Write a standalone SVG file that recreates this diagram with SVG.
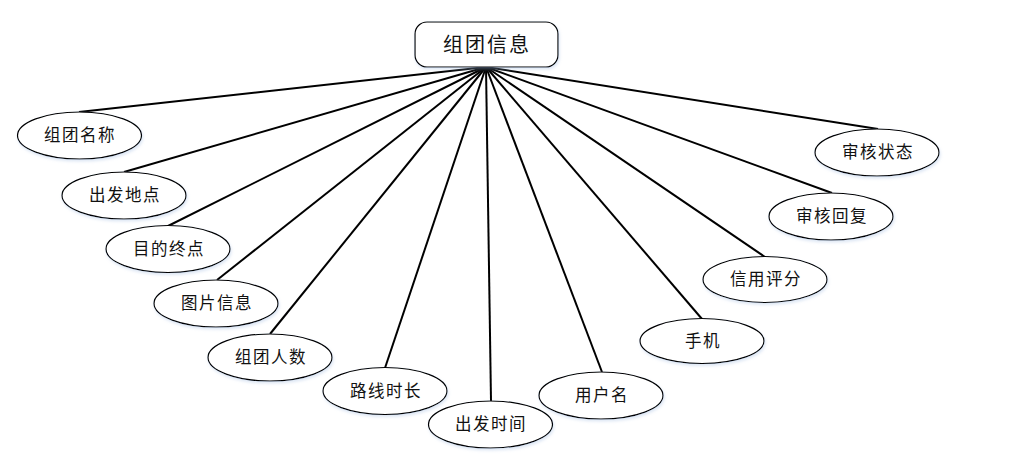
<svg xmlns="http://www.w3.org/2000/svg" width="1023" height="469" viewBox="0 0 1023 469">
<defs>
<filter id="sh" x="-20%" y="-20%" width="140%" height="150%">
<feDropShadow dx="1" dy="2" stdDeviation="1.5" flood-color="#9db8e0" flood-opacity="0.35"/>
</filter>
<style>
.n ellipse{fill:#fff;stroke:#000;stroke-width:1.2;filter:url(#sh)}
.n text{font-family:"Noto Sans CJK SC","Noto Sans",sans-serif;font-size:16.5px;letter-spacing:1.5px;text-anchor:middle;fill:#111}
#edges line{stroke:#000;stroke-width:2}
</style>
</defs>
<rect width="1023" height="469" fill="#fff"/>
<g id="edges">
<line x1="486" y1="67" x2="79" y2="112"/>
<line x1="486" y1="67" x2="124" y2="172"/>
<line x1="486" y1="67" x2="168" y2="226"/>
<line x1="486" y1="67" x2="217" y2="280"/>
<line x1="486" y1="67" x2="270" y2="334"/>
<line x1="486" y1="67" x2="385" y2="368"/>
<line x1="486" y1="67" x2="491" y2="401"/>
<line x1="486" y1="67" x2="602" y2="372"/>
<line x1="486" y1="67" x2="702" y2="319"/>
<line x1="486" y1="67" x2="765" y2="257"/>
<line x1="486" y1="67" x2="832" y2="193"/>
<line x1="486" y1="67" x2="878" y2="129"/>
</g>
<g id="root" class="n">
<rect x="415" y="22" width="143" height="45" rx="12" ry="12" fill="#fff" stroke="#000" stroke-width="1.2" filter="url(#sh)"/>
<text x="487" y="52" style="font-size:20px;letter-spacing:2px">组团信息</text>
</g>
<g id="n1" class="n"><ellipse cx="79.5" cy="135.5" rx="62" ry="23.5"/><text x="80" y="141">组团名称</text></g>
<g id="n2" class="n"><ellipse cx="124" cy="195.5" rx="62" ry="23.5"/><text x="125" y="201">出发地点</text></g>
<g id="n3" class="n"><ellipse cx="168" cy="249" rx="62" ry="23.5"/><text x="169" y="255">目的终点</text></g>
<g id="n4" class="n"><ellipse cx="216" cy="303.5" rx="62" ry="23.5"/><text x="217" y="309">图片信息</text></g>
<g id="n5" class="n"><ellipse cx="270" cy="357.5" rx="62" ry="23.5"/><text x="271" y="363">组团人数</text></g>
<g id="n6" class="n"><ellipse cx="385" cy="391" rx="62" ry="23.5"/><text x="386" y="397">路线时长</text></g>
<g id="n7" class="n"><ellipse cx="490.5" cy="424.5" rx="62" ry="23.5"/><text x="491" y="430">出发时间</text></g>
<g id="n8" class="n"><ellipse cx="601" cy="395.5" rx="62" ry="23.5"/><text x="602" y="401">用户名</text></g>
<g id="n9" class="n"><ellipse cx="702" cy="341" rx="62" ry="22.5"/><text x="703" y="347">手机</text></g>
<g id="n10" class="n"><ellipse cx="765" cy="279.5" rx="62" ry="23"/><text x="766" y="285">信用评分</text></g>
<g id="n11" class="n"><ellipse cx="831" cy="216.5" rx="62" ry="23.5"/><text x="832" y="222">审核回复</text></g>
<g id="n12" class="n"><ellipse cx="877" cy="152.5" rx="62" ry="23.5"/><text x="878" y="158">审核状态</text></g>
</svg>
